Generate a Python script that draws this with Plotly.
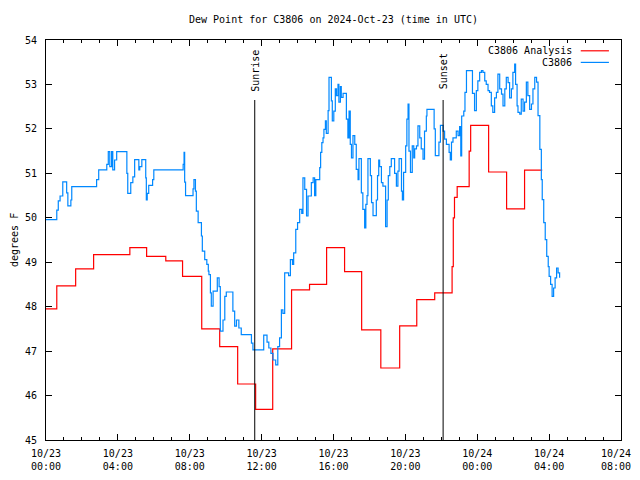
import pandas as pd
import plotly.graph_objects as go

BASE = "2024-10-23 00:00"

# C3806 Analysis (minutes after 10/23 00:00 UTC, dew point F)
analysis_min = [0, 36, 99, 159, 280, 336, 400, 456, 520, 580, 640, 700, 757, 820, 880,
                937, 997, 1054, 1118, 1181, 1238, 1298, 1356, 1360, 1364, 1373, 1413, 1418,
                1478, 1538, 1598, 1657]
analysis_val = [47.95, 48.47, 48.85, 49.17, 49.33, 49.13, 49.03, 48.68, 47.5, 47.1, 46.26,
                45.69, 47.05, 48.38, 48.5, 49.33, 48.79, 47.48, 46.62, 47.57, 48.16, 48.31,
                48.9, 50.0, 50.46, 50.7, 51.5, 52.08, 51.03, 50.2, 51.07, 51.07]

# C3806 observations
obs_min = [0, 36, 41, 47, 56, 69, 73, 83, 86, 169, 176, 203, 208, 213, 219, 223, 229, 236,
           270, 273, 283, 290, 296, 310, 313, 320, 333, 335, 338, 343, 356, 360, 458, 461,
           463, 466, 491, 494, 499, 502, 508, 519, 522, 530, 537, 542, 544, 549, 552, 558,
           572, 578, 582, 591, 597, 602, 624, 630, 636, 644, 652, 686, 691, 727, 738, 744,
           751, 758, 767, 774, 780, 786, 791, 797, 810, 816, 823, 827, 834, 840, 847, 854,
           858, 864, 870, 875, 886, 892, 897, 901, 914, 917, 921, 925, 928, 933, 936, 942,
           945, 953, 956, 961, 966, 970, 975, 978, 983, 986, 992, 1003, 1008, 1012, 1016,
           1020, 1025, 1031, 1036, 1042, 1045, 1053, 1058, 1064, 1068, 1072, 1075, 1083,
           1087, 1092, 1103, 1107, 1111, 1114, 1120, 1125, 1134, 1139, 1143, 1148, 1153,
           1164, 1170, 1175, 1179, 1187, 1190, 1194, 1201, 1205, 1209, 1212, 1217, 1223,
           1228, 1231, 1237, 1242, 1248, 1253, 1259, 1264, 1270, 1272, 1296, 1300, 1312,
           1317, 1326, 1331, 1337, 1346, 1350, 1354, 1359, 1370, 1376, 1381, 1385, 1388,
           1395, 1399, 1404, 1424, 1431, 1437, 1442, 1448, 1454, 1459, 1465, 1470, 1476,
           1481, 1487, 1492, 1498, 1504, 1509, 1515, 1521, 1526, 1532, 1537, 1543, 1548,
           1554, 1559, 1565, 1568, 1573, 1576, 1582, 1587, 1593, 1598, 1604, 1609, 1615,
           1621, 1626, 1632, 1638, 1643, 1649, 1654, 1657, 1662, 1667, 1672, 1677, 1680,
           1685, 1690, 1695, 1700, 1705, 1710, 1715]
obs_val = [49.96, 50.17, 50.38, 50.49, 50.81, 50.56, 50.27, 50.40, 50.70, 50.86, 51.08, 51.2,
           51.49, 51.15, 51.49, 51.08, 51.3, 51.49, 51.0, 50.55, 50.79, 50.92, 51.31, 51.08,
           51.15, 51.31, 50.9, 50.4, 50.55, 50.73, 50.86, 51.08, 51.2, 51.47, 50.8, 50.5,
           50.65, 50.86, 50.6, 50.15, 49.89, 49.59, 49.25, 49.06, 48.95, 48.8, 48.72, 48.31,
           48.01, 48.35, 48.65, 48.45, 47.45, 47.7, 48.23, 48.33, 47.9, 47.56, 47.7, 47.52,
           47.37, 47.18, 47.03, 47.36, 47.2, 47.07, 46.95, 46.8, 46.69, 47.1, 47.3, 47.93,
           47.85, 48.76, 48.7, 49.06, 48.95, 49.21, 49.74, 49.89, 50.19, 50.1, 50.90, 50.64,
           50.04, 50.49, 50.79, 50.9, 50.5, 50.86, 51.13, 51.47, 51.69, 51.8, 51.99, 52.18,
           51.9, 52.41, 53.16, 52.63, 52.18, 52.4, 52.9, 52.75, 53.0, 52.6, 52.95, 52.71,
           52.8, 52.22, 51.8, 52.4, 51.65, 51.35, 51.85, 51.65, 51.09, 50.86, 51.33, 50.56,
           50.19, 49.77, 50.3, 50.5, 51.33, 50.95, 50.34, 50.05, 50.4, 50.95, 51.3, 51.15,
           50.79, 50.71, 49.8, 50.4, 50.95, 51.15, 51.33, 51.0, 50.71, 51.05, 51.33, 50.6,
           50.4, 51.02, 51.62, 52.22, 52.56, 51.5, 51.02, 51.62, 51.35, 51.55, 51.62, 52.07,
           51.8, 51.55, 51.32, 51.95, 52.29, 52.44, 52.0, 51.4, 51.7, 52.08, 51.95, 51.77,
           51.65, 51.47, 51.3, 51.7, 51.8, 51.95, 51.85, 52.05, 51.39, 52.29, 52.4, 52.82,
           53.31, 52.8, 52.41, 52.86, 53.08, 53.27, 53.31, 53.27, 53.08, 53.0, 52.86, 52.82,
           52.52, 52.37, 52.7, 52.82, 53.23, 52.9, 52.78, 52.52, 52.9, 53.16, 53.04, 52.7,
           52.9, 53.27, 53.46, 53.0, 52.52, 52.37, 52.33, 52.67, 52.4, 52.6, 53.05, 52.75,
           52.44, 52.56, 52.9, 53.16, 53.05, 52.3, 51.54, 50.86, 50.41, 49.89, 49.51, 49.13,
           48.9, 48.68, 48.5, 48.23, 48.42, 48.65, 48.87, 48.76, 48.65]

sun_events = ["Sunrise", "Sunset"]
sun_min = [697, 1326]

tick_hours = [0, 4, 8, 12, 16, 20, 24, 28, 32]
tick_labels = ["10/23<br>00:00", "10/23<br>04:00", "10/23<br>08:00", "10/23<br>12:00",
               "10/23<br>16:00", "10/23<br>20:00", "10/24<br>00:00", "10/24<br>04:00",
               "10/24<br>08:00"]

base = pd.Timestamp(BASE)
to_t = lambda mins: [base + pd.Timedelta(minutes=m) for m in mins]

FONT = "DejaVu Sans Mono"
RED = "#ff0000"
BLUE = "#0088ff"

# page body has an 8px margin, so the figure is 624x464 to fill a 640x480 window
W, H = 624, 464
ML, MR, MT, MB = 38, 11, 32, 32
PW = W - ML - MR
PH = H - MT - MB

fig = go.Figure()
fig.add_trace(go.Scatter(x=to_t(analysis_min), y=analysis_val, mode="lines",
                         line=dict(color=RED, width=1.2, shape="hv"),
                         name="C3806 Analysis", showlegend=False))
fig.add_trace(go.Scatter(x=to_t(obs_min), y=obs_val, mode="lines",
                         line=dict(color=BLUE, width=1.2, shape="hv"),
                         name="C3806", showlegend=False))

for name, m in zip(sun_events, sun_min):
    t = base + pd.Timedelta(minutes=m)
    fig.add_shape(type="line", x0=t, x1=t, y0=45, y1=52.65, xref="x", yref="y",
                  line=dict(color="black", width=1))
    fig.add_annotation(x=t, y=53.3, xref="x", yref="y", text=name, showarrow=False,
                       textangle=-90, font=dict(family=FONT, size=10, color="black"),
                       xanchor="center", yanchor="middle")

# legend (gnuplot style: text then line sample)
for i, (name, col) in enumerate([("C3806 Analysis", RED), ("C3806", BLUE)]):
    yp = 0.973 - i * 0.029
    fig.add_annotation(x=0.918, y=yp, xref="paper", yref="paper", text=name,
                       showarrow=False, xanchor="right", yanchor="middle",
                       font=dict(family=FONT, size=10, color="black"))
    fig.add_shape(type="line", x0=0.930, x1=0.979, y0=yp, y1=yp, xref="paper",
                  yref="paper", line=dict(color=col, width=1.2))

fig.add_annotation(x=-(ML - 6) / PW, y=0.5, xref="paper", yref="paper", text="degrees F",
                   showarrow=False, textangle=-90, xanchor="center", yanchor="middle",
                   font=dict(family=FONT, size=10, color="black"))

# last x tick label would overflow the page edge: draw it flush with the edge
fig.add_annotation(x=(PW + MR) / PW, y=-7 / PH, xref="paper", yref="paper",
                   text=tick_labels[-1], showarrow=False, xanchor="right", yanchor="top",
                   align="center", borderpad=0,
                   font=dict(family=FONT, size=10, color="black"))

fig.update_layout(
    width=W, height=H,
    margin=dict(l=ML, r=MR, t=MT, b=MB, autoexpand=False),
    paper_bgcolor="white", plot_bgcolor="white",
    font=dict(family=FONT, size=10, color="black"),
    title=dict(text="Dew Point for C3806 on 2024-Oct-23 (time in UTC)",
               x=0.5, xref="paper", xanchor="center", y=1 - 11 / H, yanchor="middle",
               font=dict(family=FONT, size=10, color="black")),
    showlegend=False,
)
fig.update_xaxes(
    type="date",
    range=[base, base + pd.Timedelta(hours=32)],
    tickvals=[base + pd.Timedelta(hours=h) for h in tick_hours[:-1]],
    ticktext=tick_labels[:-1],
    ticks="inside", ticklen=6, tickcolor="black",
    minor=dict(ticks="inside", ticklen=3, dtick=3600000, tickcolor="black", showgrid=False),
    showline=True, linecolor="black", linewidth=1, mirror="ticks",
    showgrid=False, zeroline=False,
    ticklabelstandoff=4,
)
fig.update_yaxes(
    range=[45, 54], dtick=1, tick0=45,
    ticks="inside", ticklen=6, tickcolor="black",
    showline=True, linecolor="black", linewidth=1, mirror="ticks",
    showgrid=False, zeroline=False,
    ticklabelstandoff=6,
)

fig.write_html("out.html")
